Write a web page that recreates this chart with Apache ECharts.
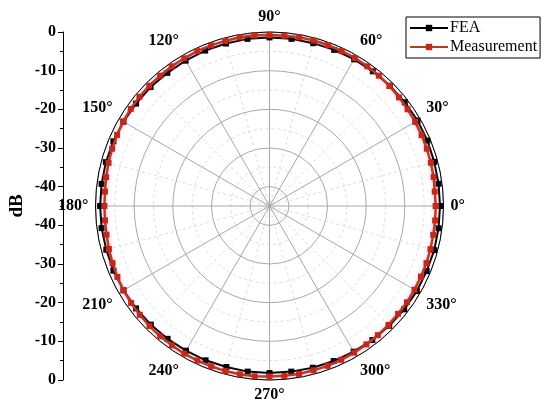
<!DOCTYPE html>
<html>
<head>
<meta charset="utf-8">
<script src="https://cdn.jsdelivr.net/npm/echarts@6/dist/echarts.min.js"></script>
<style>
  html, body { margin: 0; padding: 0; background: #fff; }
  #chart { width: 550px; height: 413px; }
</style>
</head>
<body>
<div id="chart"></div>
<script>
// FEA, sampled every 7.5 degrees (dB)
const feaAngles = [0, 7.5, 15, 22.5, 30, 37.5, 45, 52.5, 60, 67.5, 75, 82.5, 90, 97.5, 105, 112.5,
  120, 127.5, 135, 142.5, 150, 157.5, 165, 172.5, 180, 187.5, 195, 202.5, 210, 217.5, 225, 232.5,
  240, 247.5, 255, 262.5, 270, 277.5, 285, 292.5, 300, 307.5, 315, 322.5, 330, 337.5, 345, 352.5, 360];
const feaValues = [-0.9, -0.9, -0.9, -0.8, -0.8, -0.9, -1.0, -1.1, -1.2, -1.3, -1.4, -1.4, -1.4, -1.4, -1.5, -1.5,
  -1.6, -1.6, -1.5, -1.5, -1.4, -1.3, -1.2, -1.2, -1.2, -1.2, -1.3, -1.3, -1.4, -1.5, -1.6, -1.7,
  -1.8, -1.8, -1.9, -1.8, -1.8, -1.8, -1.7, -1.6, -1.5, -1.3, -1.2, -1.1, -1.0, -1.0, -0.9, -0.9, -0.9];

// Measurement, sampled every 5 degrees (dB)
const measAngles = [0, 5, 10, 15, 20, 25, 30, 35, 40, 45, 50, 55, 60, 65, 70, 75, 80, 85,
  90, 95, 100, 105, 110, 115, 120, 125, 130, 135, 140, 145, 150, 155, 160, 165, 170, 175,
  180, 185, 190, 195, 200, 205, 210, 215, 220, 225, 230, 235, 240, 245, 250, 255, 260, 265,
  270, 275, 280, 285, 290, 295, 300, 305, 310, 315, 320, 325, 330, 335, 340, 345, 350, 355, 360];
const measValues = [-2.0, -2.1, -1.9, -1.8, -1.7, -1.6, -1.5, -1.4, -1.3, -1.1, -1.0, -0.9, -0.8, -0.8, -0.7, -0.7, -0.7, -0.8,
  -0.8, -0.7, -0.7, -0.8, -0.8, -0.8, -0.9, -0.9, -1.0, -1.0, -1.1, -1.2, -1.3, -1.5, -1.7, -1.9, -2.1, -2.3,
  -2.3, -2.3, -2.2, -2.0, -1.8, -1.6, -1.4, -1.3, -1.2, -1.1, -1.0, -1.0, -0.9, -0.9, -0.9, -0.8, -0.8, -0.8,
  -0.9, -0.9, -0.9, -1.0, -1.0, -1.1, -1.2, -1.3, -1.4, -1.5, -1.6, -1.6, -1.7, -1.8, -1.8, -1.9, -2.0, -2.0, -2.0];

// left side dB scale: 0 .. -40 | -40 .. 0
const dbTickLabels = ['0', '-10', '-20', '-30', '-40', '-40', '-30', '-20', '-10', '0'];

const R_MIN = -45, R_MAX = 0;
const center = [269.5, 206];
const radius = 174;
const serif = '"Liberation Serif", "Times New Roman", serif';

const myChart = echarts.init(document.getElementById('chart'));

const option = {
  backgroundColor: '#fff',
  animation: false,
  legend: {
    left: 406,
    top: 17,
    orient: 'vertical',
    borderColor: '#000',
    borderWidth: 1,
    borderRadius: 0,
    padding: [3, 3, 3, 3],
    itemWidth: 38,
    itemHeight: 8,
    itemGap: 3,
    textStyle: { fontFamily: serif, fontSize: 16, color: '#000', padding: [0, 0, 0, -3] },
    data: ['FEA', 'Measurement']
  },
  polar: [
    { center: center, radius: radius },
    { center: center, radius: radius }
  ],
  angleAxis: [{
    polarIndex: 0,
    type: 'value', min: 0, max: 360, interval: 15,
    startAngle: 0, clockwise: false,
    axisLine: { show: false },
    axisTick: { show: false },
    axisLabel: { show: false },
    splitLine: { lineStyle: { color: ['rgba(0,0,0,0)', '#dcdcdc'], type: [3, 3], width: 1 } }
  }, {
    polarIndex: 1,
    type: 'value', min: 0, max: 360, interval: 30,
    startAngle: 0, clockwise: false,
    axisLine: { show: true, lineStyle: { color: '#000', width: 1 } },
    axisTick: { show: false },
    axisLabel: {
      margin: 7,
      fontFamily: serif, fontWeight: 'bold', fontSize: 16, color: '#000',
      formatter: function (v) { return v === 360 ? '' : v + '°'; }
    },
    splitLine: { lineStyle: { color: '#a8a8a8', width: 1 } }
  }],
  radiusAxis: [{
    polarIndex: 0,
    type: 'value', min: R_MIN, max: R_MAX, interval: 5,
    axisLine: { show: false }, axisTick: { show: false }, axisLabel: { show: false },
    splitLine: { lineStyle: { color: ['#dcdcdc', 'rgba(0,0,0,0)'], type: [3, 3] } }
  }, {
    polarIndex: 1,
    type: 'value', min: R_MIN, max: R_MAX, interval: 5,
    axisLine: { show: false }, axisTick: { show: false }, axisLabel: { show: false },
    splitLine: { lineStyle: { color: ['rgba(0,0,0,0)', '#a8a8a8'], width: 1 } }
  }],
  grid: { left: 63, top: 32, bottom: 33, width: 1 },
  xAxis: { type: 'value', show: false },
  yAxis: {
    type: 'value', min: 0, max: 90, interval: 10,
    name: 'dB',
    nameLocation: 'middle',
    nameGap: 36,
    nameRotate: 90,
    nameTextStyle: { fontFamily: serif, fontWeight: 'bold', fontSize: 19, color: '#000' },
    axisLine: { show: true, lineStyle: { color: '#000', width: 1 } },
    axisTick: { show: true, length: 5, lineStyle: { color: '#000' } },
    minorTick: { show: true, splitNumber: 2, length: 3, lineStyle: { color: '#000' } },
    splitLine: { show: false },
    axisLabel: {
      margin: 7,
      fontFamily: serif, fontWeight: 'bold', fontSize: 16, color: '#000',
      formatter: function (v) { return dbTickLabels[Math.round(v / 10)]; }
    }
  },
  series: [{
    name: 'FEA',
    type: 'line',
    coordinateSystem: 'polar',
    polarIndex: 1,
    data: feaAngles.map((a, i) => [feaValues[i], a]),
    symbol: 'rect',
    symbolSize: 6,
    lineStyle: { color: '#000', width: 2 },
    itemStyle: { color: '#000' },
    z: 3
  }, {
    name: 'Measurement',
    type: 'line',
    coordinateSystem: 'polar',
    polarIndex: 1,
    data: measAngles.map((a, i) => [measValues[i], a]),
    symbol: 'rect',
    symbolSize: 6,
    lineStyle: { color: '#b3401c', width: 2.5, shadowColor: 'rgba(255,60,200,0.45)', shadowBlur: 4 },
    itemStyle: { color: '#c4281a' },
    z: 4
  }]
};

myChart.setOption(option);
</script>
</body>
</html>
